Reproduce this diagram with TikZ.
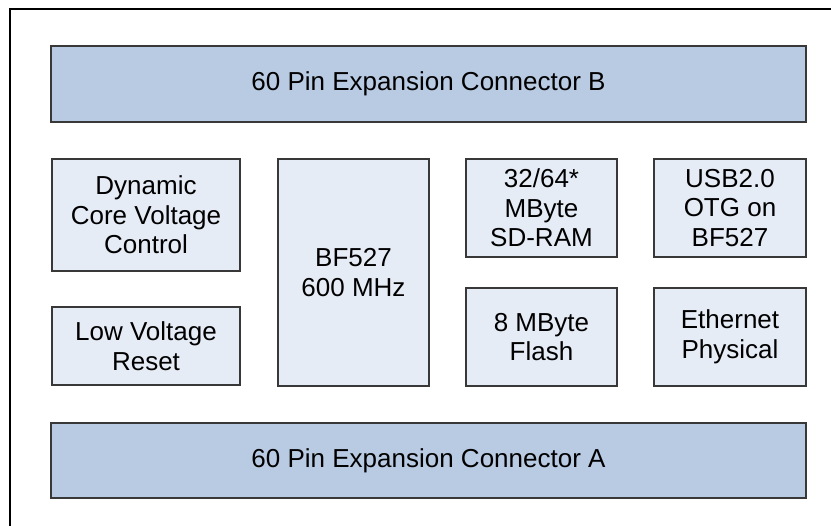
\documentclass[tikz,border=0pt]{standalone}
\usepackage{fontspec}
\setmainfont{Liberation Sans}
\usetikzlibrary{shadows}
\definecolor{barfill}{HTML}{B9CAE3}
\definecolor{boxfill}{HTML}{E6ECF6}
\definecolor{edge}{HTML}{383838}
\begin{document}
\begin{tikzpicture}[x=1pt,y=-1pt,
  blk/.style={draw=edge, line width=1.1pt, inner sep=0pt, align=center,
    font=\fontsize{26}{29.5}\selectfont,
    drop shadow={shadow xshift=1.2pt, shadow yshift=-1.2pt, fill=black!45, opacity=0.8}},
  bar/.style={blk, fill=barfill},
  sbox/.style={blk, fill=boxfill}]
\useasboundingbox (0,0) rectangle (831,526);
\fill[white] (0,0) rectangle (831,526);
% outer frame (left and top edges)
\coordinate (f0) at (10,526);
\coordinate (f1) at (10,9);
\coordinate (f2) at (831,9);
\draw[line width=2pt, black] (f0) -- (f1) -- (f2);
\node[bar, minimum width=755pt, minimum height=76pt] (conB) at (428.5,84) {60 Pin Expansion Connector B};
\node[bar, minimum width=755pt, minimum height=75pt] (conA) at (428.5,460.5) {60 Pin Expansion Connector A};
\node[sbox, minimum width=188pt, minimum height=112pt] (dyn) at (146,215) {Dynamic\\Core Voltage\\Control};
\node[sbox, minimum width=188pt, minimum height=78pt] (lvr) at (146,346) {Low Voltage\\Reset};
\node[sbox, minimum width=151pt, minimum height=227pt] (cpu) at (353.5,272.5) {BF527\\600 MHz};
\node[sbox, minimum width=151pt, minimum height=98pt] (ram) at (541.5,208) {32/64*\\MByte\\SD-RAM};
\node[sbox, minimum width=152pt, minimum height=98pt] (usb) at (730,208) {USB2.0\\OTG on\\BF527};
\node[sbox, minimum width=151pt, minimum height=98pt] (fla) at (541.5,337) {8 MByte\\Flash};
\node[sbox, minimum width=152pt, minimum height=98pt] (eth) at (730,337) {Ethernet\\Physical};
\end{tikzpicture}
\end{document}
